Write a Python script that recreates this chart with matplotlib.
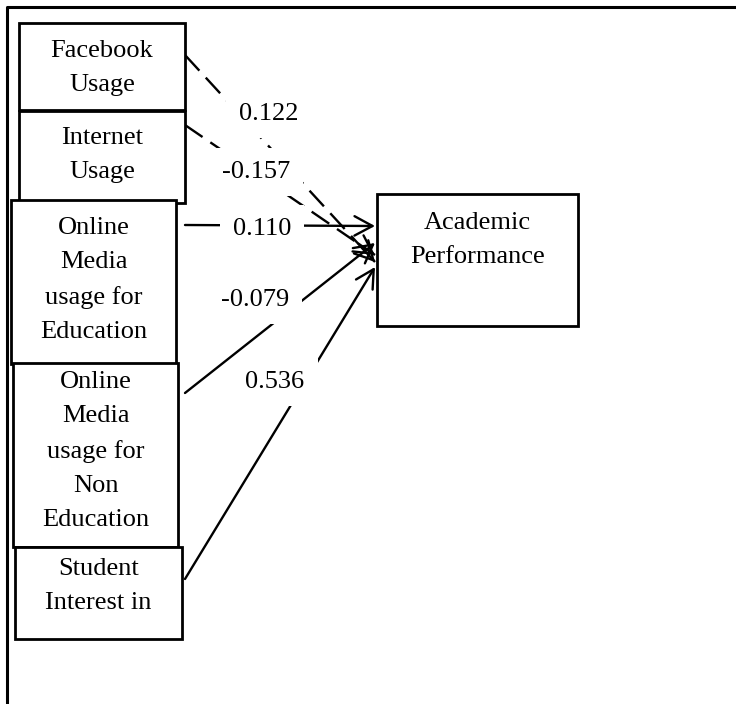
import matplotlib.pyplot as plt
from matplotlib.patches import Rectangle

plt.rcParams['font.family'] = ['Liberation Serif', 'DejaVu Serif']

# path model: predictors -> Academic Performance
sources = ['Facebook\nUsage', 'Internet\nUsage',
           'Online\nMedia\nusage for\nEducation',
           'Online\nMedia\nusage for\nNon\nEducation',
           'Student\nInterest in']
coefs = [0.122, -0.157, 0.110, -0.079, 0.536]
target = 'Academic\nPerformance'
dashed = [True, True, False, False, False]

# layout in pixels (y grows downwards)
box_x = [19, 19, 11, 13, 15]
box_y = [23, 111, 200, 363, 547]
box_w = [166, 166, 165, 165, 167]
box_h = [87, 92, 164, 184, 92]
text_y = [68, 155, 280, 451, 586]
src_y = [55, 125, 225, 393, 579]
dst_y = [262, 255, 226, 243, 267]
lab_x = [269, 256, 262, 255, 275]
lab_y = [114, 172, 229, 300, 382]
line_x0 = 185
line_x1 = 375
tgt_x, tgt_y, tgt_w, tgt_h = 377, 194, 201, 132
tgt_text_y = 240

fs = 19
lsp = 1.7
fig = plt.figure(figsize=(7.36, 7.04), dpi=100)
ax = fig.add_axes([0, 0, 1, 1])
ax.set_xlim(0, 736)
ax.set_ylim(704, 0)
ax.axis('off')

# outer frame (only left and top visible)
ax.plot([7, 7, 736], [704, 7, 7], color='black', lw=2.2, solid_capstyle='butt')

head = '->,head_length=0.65,head_width=0.35'
for i in range(len(sources)):
    x0, y0 = line_x0, src_y[i]
    x1, y1 = line_x1, dst_y[i]
    if dashed[i]:
        ax.plot([x0, x1], [y0, y1], color='black', lw=1.7, dashes=(9, 4), zorder=2)
        dx, dy = x1 - x0, y1 - y0
        d = (dx ** 2 + dy ** 2) ** 0.5
        ax.annotate('', xy=(x1, y1), xytext=(x1 - dx / d * 20, y1 - dy / d * 20),
                    arrowprops=dict(arrowstyle=head, lw=1.7, color='black',
                                    mutation_scale=20, shrinkA=0, shrinkB=0), zorder=2)
    else:
        ax.annotate('', xy=(x1, y1), xytext=(x0, y0),
                    arrowprops=dict(arrowstyle=head, lw=1.7, color='black',
                                    mutation_scale=20, shrinkA=0, shrinkB=0), zorder=2)
    ax.text(lab_x[i], lab_y[i], f'{coefs[i]:.3f}', ha='center', va='center', fontsize=fs,
            bbox=dict(boxstyle='square,pad=0.5', fc='white', ec='none'), zorder=3)

for i in range(len(sources)):
    ax.add_patch(Rectangle((box_x[i], box_y[i]), box_w[i], box_h[i], fc='white',
                           ec='black', lw=2, zorder=4 + i))
    ax.text(box_x[i] + box_w[i] / 2, text_y[i], sources[i], ha='center', va='center',
            fontsize=fs, linespacing=lsp, zorder=4 + i)

ax.add_patch(Rectangle((tgt_x, tgt_y), tgt_w, tgt_h, fc='white', ec='black', lw=2, zorder=10))
ax.text(tgt_x + tgt_w / 2, tgt_text_y, target, ha='center', va='center', fontsize=fs,
        linespacing=lsp, zorder=11)

fig.savefig('out.png', dpi=100)
